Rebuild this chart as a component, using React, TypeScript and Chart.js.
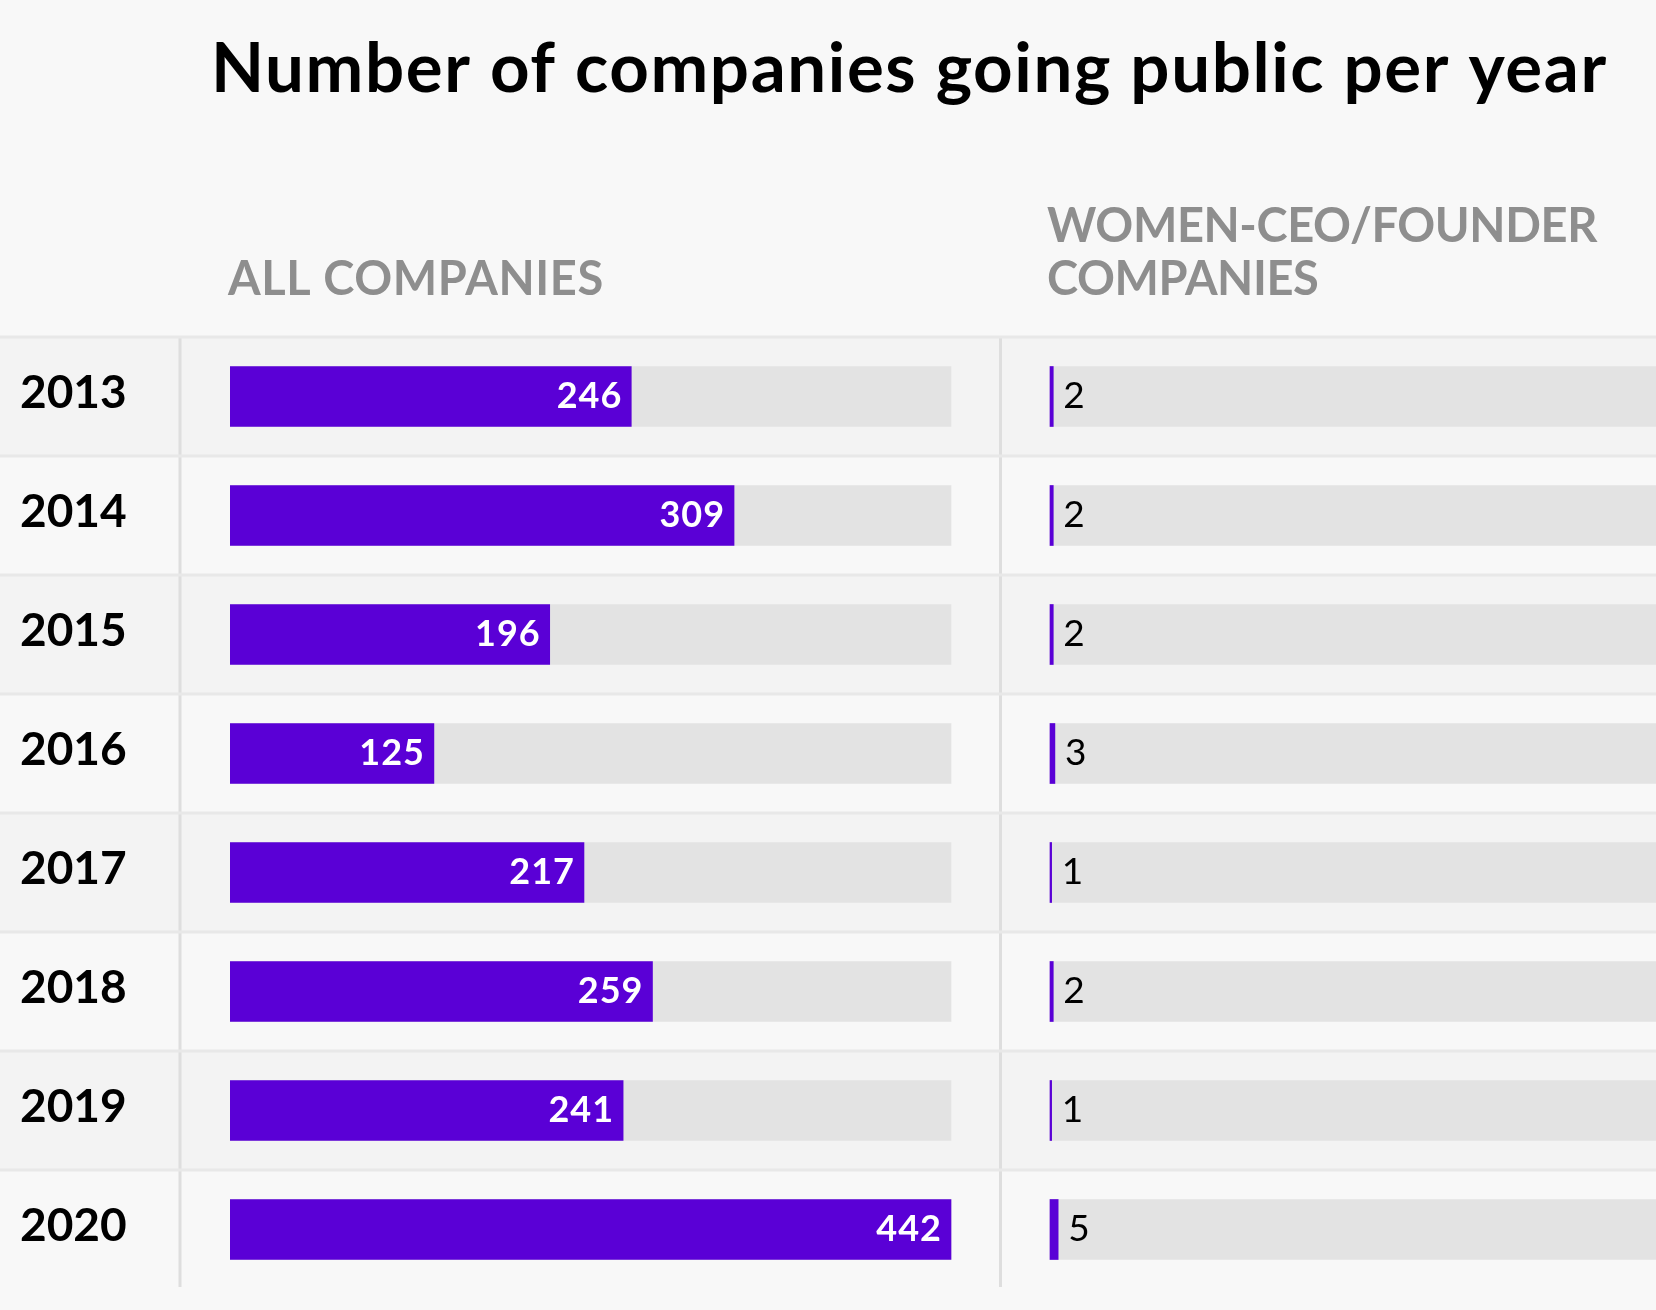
import React, { useEffect, useRef } from 'react';
import { Chart, registerables } from 'chart.js';

Chart.register(...registerables);

const YEARS = ['2013', '2014', '2015', '2016', '2017', '2018', '2019', '2020'];
const ALL_COMPANIES = [246, 309, 196, 125, 217, 259, 241, 442];
const WOMEN_COMPANIES = [2, 2, 2, 3, 1, 2, 1, 5];
const TITLE = 'Number of companies going public per year';
const HEADER_ALL = ['ALL COMPANIES'];
const HEADER_WOMEN = ['WOMEN-CEO/FOUNDER', 'COMPANIES'];

// Shared value axis: first panel track runs 0..TRACK_MAX, second panel track starts at WOMEN_START
const TRACK_MAX = 442;
const WOMEN_START = 502.7;
const AXIS_MAX = 874.2;

const FONT = 'Lato';
const PURPLE = '#5a00d6';
const TRACK = '#e3e3e3';

const decorPlugin = {
  id: 'decor',
  beforeDraw(chart: any) {
    const { ctx, chartArea } = chart;
    const x = chart.scales.x;
    const y = chart.scales.y;
    const W = chart.width;
    const H = chart.height;
    const n = YEARS.length;
    const step = (chartArea.bottom - chartArea.top) / n;
    ctx.save();
    ctx.fillStyle = '#f8f8f8';
    ctx.fillRect(0, 0, W, H);
    for (let i = 0; i < n; i++) {
      const top = y.getPixelForValue(i) - step / 2;
      ctx.fillStyle = i % 2 === 0 ? '#f3f3f3' : '#f8f8f8';
      ctx.fillRect(0, top, W, step);
    }
    // vertical dividers
    ctx.fillStyle = '#dedede';
    const v1 = chartArea.left - 50;
    const v2 = (x.getPixelForValue(TRACK_MAX) + x.getPixelForValue(WOMEN_START)) / 2;
    const vh = chartArea.bottom - chartArea.top - 2;
    ctx.fillRect(v1 - 1.5, chartArea.top, 3, vh);
    ctx.fillRect(v2 - 1.5, chartArea.top, 3, vh);
    // horizontal row lines
    ctx.fillStyle = '#e8e8e8';
    for (let i = 0; i < n; i++) {
      const top = y.getPixelForValue(i) - step / 2;
      ctx.fillRect(0, top - 1.5, W, 3);
    }
    // title
    ctx.textAlign = 'left';
    ctx.textBaseline = 'alphabetic';
    ctx.fillStyle = '#000000';
    ctx.font = `bold 69px ${FONT}`;
    (ctx as any).letterSpacing = '1.6px';
    ctx.fillText(TITLE, 211, 92);
    // column headers
    ctx.fillStyle = '#8e8e8e';
    ctx.font = `bold 47px ${FONT}`;
    const hx1 = x.getPixelForValue(0) - 2;
    const hx2 = x.getPixelForValue(WOMEN_START) - 3;
    const lastBase = chartArea.top - 42;
    (ctx as any).letterSpacing = '0.6px';
    HEADER_ALL.forEach((t, i) => {
      ctx.fillText(t, hx1, lastBase - (HEADER_ALL.length - 1 - i) * 53);
    });
    (ctx as any).letterSpacing = '-0.4px';
    HEADER_WOMEN.forEach((t, i) => {
      ctx.fillText(t, hx2, lastBase - (HEADER_WOMEN.length - 1 - i) * 53);
    });
    ctx.restore();
  },
  afterDatasetsDraw(chart: any) {
    const { ctx } = chart;
    ctx.save();
    ctx.textBaseline = 'alphabetic';
    ctx.font = `bold 36px ${FONT}`;
    (ctx as any).letterSpacing = '1px';
    const m0 = chart.getDatasetMeta(0);
    m0.data.forEach((bar: any, i: number) => {
      ctx.fillStyle = '#ffffff';
      ctx.textAlign = 'right';
      ctx.fillText(String(ALL_COMPANIES[i]), bar.x - 9, bar.y + 11);
    });
    ctx.font = `37px ${FONT}`;
    const m1 = chart.getDatasetMeta(1);
    m1.data.forEach((bar: any, i: number) => {
      ctx.fillStyle = '#000000';
      ctx.textAlign = 'left';
      ctx.fillText(String(WOMEN_COMPANIES[i]), bar.x + 10, bar.y + 11);
    });
    ctx.restore();
  },
};

export default function App() {
  const ref = useRef<HTMLCanvasElement | null>(null);

  useEffect(() => {
    document.body.style.margin = '0';
    document.body.style.background = '#f8f8f8';
    let chart: Chart | null = null;
    let cancelled = false;
    const build = () => {
      if (cancelled || !ref.current) return;
      chart = new Chart(ref.current, {
        type: 'bar',
        data: {
          labels: YEARS,
          datasets: [
            {
              label: 'All companies',
              data: ALL_COMPANIES,
              backgroundColor: PURPLE,
              barThickness: 60,
              grouped: false,
              order: 0,
            } as any,
            {
              label: 'Women-CEO/founder companies',
              data: WOMEN_COMPANIES.map((v) => [WOMEN_START, WOMEN_START + v]),
              backgroundColor: PURPLE,
              barThickness: 60,
              grouped: false,
              order: 0,
            } as any,
            {
              label: 'track-all',
              data: ALL_COMPANIES.map(() => [0, TRACK_MAX]),
              backgroundColor: TRACK,
              barThickness: 60,
              grouped: false,
              order: 1,
            } as any,
            {
              label: 'track-women',
              data: WOMEN_COMPANIES.map(() => [WOMEN_START, WOMEN_START + TRACK_MAX]),
              backgroundColor: TRACK,
              barThickness: 60,
              grouped: false,
              order: 1,
            } as any,
          ],
        },
        options: {
          indexAxis: 'y',
          animation: false,
          responsive: false,
          devicePixelRatio: 1,
          layout: { padding: { top: 337, bottom: 21, left: 20, right: 0 } },
          plugins: {
            legend: { display: false },
            tooltip: { enabled: false },
            title: { display: false },
          },
          scales: {
            x: {
              type: 'linear',
              display: false,
              min: 0,
              max: AXIS_MAX,
            },
            y: {
              type: 'category',
              offset: true,
              grid: { display: false },
              border: { display: false },
              ticks: {
                crossAlign: 'far',
                color: '#000000',
                padding: 0,
                labelOffset: -3,
                font: { family: FONT, size: 46, weight: 'bold' },
              },
              afterFit: (scale: any) => {
                scale.width = 210;
                scale.paddingTop = 0;
                scale.paddingBottom = 0;
              },
            },
          },
        } as any,
        plugins: [decorPlugin],
      });
    };
    const fs: any = (document as any).fonts;
    if (fs && fs.load) {
      Promise.all([
        fs.load(`bold 69px ${FONT}`),
        fs.load(`400 36px ${FONT}`),
      ])
        .catch(() => null)
        .then(build);
    } else {
      build();
    }
    return () => {
      cancelled = true;
      if (chart) chart.destroy();
    };
  }, []);

  return (
    <div style={{ width: 1656, height: 1310, background: '#f8f8f8' }}>
      <canvas ref={ref} width={1656} height={1310} style={{ display: 'block', width: 1656, height: 1310 }} />
    </div>
  );
}
